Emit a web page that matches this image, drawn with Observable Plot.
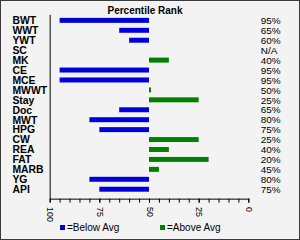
<!DOCTYPE html>
<html><head><meta charset="utf-8">
<script src="https://cdn.jsdelivr.net/npm/d3@7"></script>
<script src="https://cdn.jsdelivr.net/npm/@observablehq/plot@0.6"></script>
<style>
body{margin:0;background:#fff;}
#chart{position:relative;width:300px;height:240px;box-sizing:border-box;border:1px solid #3a3a3a;background:#f3f3f3;font-family:"Liberation Sans",Arial,sans-serif;overflow:hidden;color:#000;}
#chart svg{position:absolute;left:-1px;top:-1px;}
.title{position:absolute;top:4px;left:-1px;width:290px;text-align:center;font-weight:bold;font-size:10px;line-height:12px;}
.leg{position:absolute;top:221px;font-size:10px;line-height:12px;white-space:nowrap;}
.sw{display:inline-block;width:5px;height:5px;margin-right:2px;vertical-align:1px;}
</style>
</head><body>
<div id="chart"></div>
<script>
const title = "Percentile Rank";
const categories = ["BWT","WWT","YWT","SC","MK","CE","MCE","MWWT","Stay","Doc","MWT","HPG","CW","REA","FAT","MARB","YG","API"];
const values = [95,65,60,null,40,95,95,49,25,65,80,75,25,40,20,45,80,75];
const rankLabels = ["95%","65%","60%","N/A","40%","95%","95%","50%","25%","65%","80%","75%","25%","40%","20%","45%","80%","75%"];
const tickValues = [0,25,50,75,100];
const AVG = 50;
const legendNames = ["=Below Avg","=Above Avg"];
const colors = ["#0000dd","#008000"];

const rows = categories.map((c,i)=>({cat:c, value:values[i], label:rankLabels[i]}));
const barRows = rows.filter(d=>d.value!=null);

const chart = document.getElementById("chart");
const plot = Plot.plot({
  width:300, height:240,
  marginLeft:50, marginRight:50, marginTop:15, marginBottom:40,
  style:{background:"transparent", fontFamily:"'Liberation Sans', Arial, sans-serif", fontSize:"10px", color:"#000", overflow:"visible"},
  x:{domain:[100,0]},
  y:{domain:categories, range:[15,195], paddingInner:0.5, paddingOuter:0.25, axis:null},
  marks:[
    Plot.barX(barRows, {y:"cat", x1:()=>AVG, x2:"value", fill:d=>d.value>AVG?colors[0]:colors[1]}),
    Plot.ruleX([100], {stroke:"#000"}),
    Plot.frame({anchor:"bottom", stroke:"#000"}),
    Plot.axisX({ticks:d3.range(0,101,5), tickSize:4, tickFormat:()=>"", label:null, stroke:"#000"}),
    Plot.axisX({ticks:tickValues, tickSize:4, tickPadding:4, tickRotate:90, label:null, fontSize:9, stroke:"#000"}),
    Plot.text(rows, {y:"cat", text:"cat", frameAnchor:"left", dx:-38, textAnchor:"start", fontWeight:"bold", fontSize:10.5}),
    Plot.text(rows, {y:"cat", text:"label", frameAnchor:"right", dx:12, textAnchor:"start", fontSize:10})
  ]
});
chart.appendChild(plot);

const t = document.createElement("div");
t.className="title"; t.textContent=title; chart.appendChild(t);
[59,159].forEach((left,i)=>{
  const l=document.createElement("div");
  l.className="leg"; l.style.left=left+"px";
  const s=document.createElement("span"); s.className="sw"; s.style.background=colors[i];
  l.appendChild(s); l.appendChild(document.createTextNode(legendNames[i]));
  chart.appendChild(l);
});
</script>
</body></html>
